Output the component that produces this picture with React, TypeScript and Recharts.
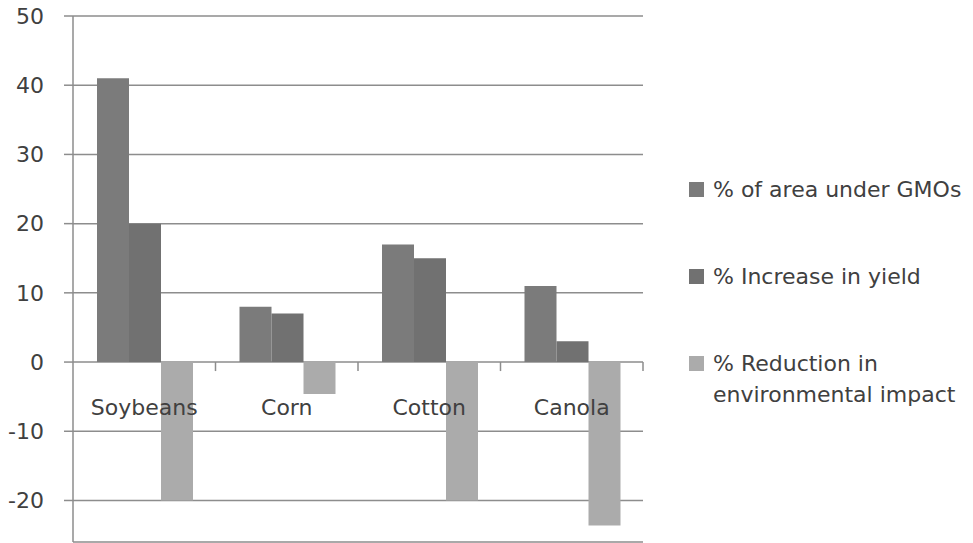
import React from 'react';
import { BarChart, Bar, XAxis, YAxis, CartesianGrid, Legend } from 'recharts';

const crops = ['Soybeans', 'Corn', 'Cotton', 'Canola'];
const areaUnderGmo = [41, 8, 17, 11];
const yieldIncrease = [20, 7, 15, 3];
const impactReduction = [-20, -4.6, -20, -23.6];
const yTicks = [-20, -10, 0, 10, 20, 30, 40, 50];

const series = [
  { key: 'area', name: '% of area under GMOs', lines: ['% of area under GMOs'], color: '#7b7b7b' },
  { key: 'yield', name: '% Increase in yield', lines: ['% Increase in yield'], color: '#717171' },
  { key: 'impact', name: '% Reduction in environmental impact', lines: ['% Reduction in', 'environmental impact'], color: '#ababab' },
];

const data = crops.map((crop, i) => ({
  crop,
  area: areaUnderGmo[i],
  yield: yieldIncrease[i],
  impact: impactReduction[i],
}));

const W = 973;
const H = 543;
const M = { top: 16, right: 330, bottom: 0, left: 0 };
const Y_AXIS_W = 73;
const X_AXIS_H = 1;
const Y_MIN = -26;
const Y_MAX = 50;
const FONT = '"DejaVu Sans", sans-serif';
const TEXT = '#404040';
const GRID = '#8d8d8d';

const PLOT_H = H - M.top - M.bottom - X_AXIS_H;
const PLOT_W = W - M.left - M.right - Y_AXIS_W;
const ZERO_Y = M.top + (PLOT_H * Y_MAX) / (Y_MAX - Y_MIN);
const BAND = PLOT_W / crops.length;

// category labels and boundary ticks sit on the zero line, not at the plot bottom
function CropTick(props: any) {
  const { x, payload } = props;
  const edge = x + BAND / 2;
  return (
    <g>
      <line x1={edge} x2={edge} y1={ZERO_Y} y2={ZERO_Y + 9} stroke={GRID} strokeWidth={1.5} />
      <text x={x} y={ZERO_Y + 53} textAnchor="middle" fill={TEXT} fontSize={22} fontFamily={FONT}>
        {payload.value}
      </text>
    </g>
  );
}

function SideLegend(props: any) {
  const payload = props.payload || [];
  return (
    <div style={{ fontFamily: FONT, fontSize: 22, color: TEXT, lineHeight: '31px', textAlign: 'left' }}>
      {series.map((s) => {
        const entry = payload.find((p: any) => p.dataKey === s.key);
        return (
          <div key={s.key} style={{ display: 'flex', alignItems: 'flex-start', height: 87 }}>
            <span style={{ width: 15, height: 15, marginTop: 8, background: entry ? entry.color : s.color, flexShrink: 0 }} />
            <span style={{ marginLeft: 9, whiteSpace: 'nowrap' }}>
              {s.lines.map((l) => (
                <div key={l}>{l}</div>
              ))}
            </span>
          </div>
        );
      })}
    </div>
  );
}

export default function App() {
  return (
    <div style={{ position: 'absolute', left: 0, top: 0, width: W, height: H, background: '#fff' }}>
      <BarChart width={W} height={H} data={data} margin={M} barGap={0} barCategoryGap={24}>
        <CartesianGrid vertical={false} stroke={GRID} strokeWidth={1.5} />
        <XAxis
          dataKey="crop"
          height={X_AXIS_H}
          axisLine={false}
          tickLine={false}
          tick={<CropTick />}
          interval={0}
        />
        <YAxis
          width={Y_AXIS_W}
          domain={[Y_MIN, Y_MAX]}
          ticks={yTicks}
          allowDataOverflow
          stroke={GRID}
          strokeWidth={1.5}
          tickSize={9}
          tickMargin={20}
          tick={{ fill: TEXT, fontSize: 22, fontFamily: FONT }}
        />
        <Legend
          layout="horizontal"
          verticalAlign="middle"
          align="center"
          wrapperStyle={{ left: 689, top: 174, width: 284 }}
          content={<SideLegend />}
        />
        {series.map((s) => (
          <Bar key={s.key} dataKey={s.key} name={s.name} fill={s.color} isAnimationActive={false} />
        ))}
      </BarChart>
    </div>
  );
}
